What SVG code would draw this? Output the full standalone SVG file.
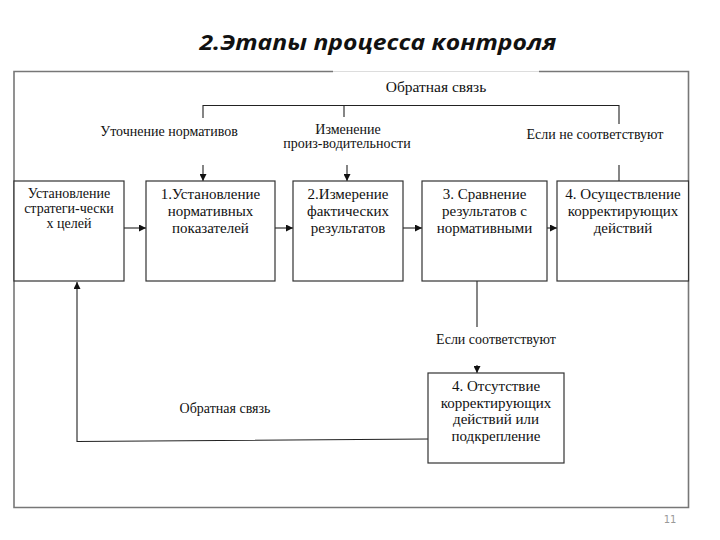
<svg xmlns="http://www.w3.org/2000/svg" width="720" height="540" viewBox="0 0 720 540">
<defs>
<marker id="ah" viewBox="0 0 10 10" refX="10" refY="5" markerWidth="7" markerHeight="7" markerUnits="userSpaceOnUse" orient="auto">
<path d="M0,0 L10,5 L0,10 Z" fill="#111"/>
</marker>
<style>
.box{fill:#fff;stroke:#333;stroke-width:1.2}
.t{font-family:"Liberation Serif","DejaVu Serif",serif;fill:#111;text-anchor:middle}
.bt{font-size:15px}
.lt{font-size:14px}
.c{fill:none;stroke:#222;stroke-width:1.1}
.a{marker-end:url(#ah)}
</style>
</defs>
<rect width="720" height="540" fill="#fff"/>
<text x="378" y="50" font-family="'Open Sans','Liberation Sans',sans-serif" font-weight="bold" font-style="italic" font-size="22" fill="#111" text-anchor="middle" textLength="357" lengthAdjust="spacingAndGlyphs">2.Этапы процесса контроля</text>
<g id="frame">
<path d="M333,71.5 L14,71.5 L14,507.5 L688.5,507.5 L688.5,71.5 L539,71.5" fill="none" stroke="#777" stroke-width="1.6"/>
<path d="M333,71.5 L539,71.5" fill="none" stroke="#ddd" stroke-width="1.2"/>
</g>
<g id="connectors">
<path class="c" d="M203,118 L203,105.5 L619,105.5 L619,124"/>
<path class="c" d="M344,105.5 L344,117"/>
<path class="c a" d="M203,165 L203,181"/>
<path class="c a" d="M347,165 L347,181"/>
<path class="c" d="M619,165 L619,181"/>
<path class="c a" d="M124,228 L146,228"/>
<path class="c a" d="M275,228 L293,228"/>
<path class="c a" d="M403,228 L422,228"/>
<path class="c a" d="M547,228 L557,228"/>
<path class="c" d="M477,281 L477,327"/>
<path class="c a" d="M477,365 L477,373"/>
<path class="c a" d="M428,439 L77,441.5 L77,282"/>
</g>
<g id="labels">
<text class="t" x="436" y="92" font-size="15.5">Обратная связь</text>
<text class="t lt" x="169" y="136">Уточнение нормативов</text>
<text class="t lt" x="348" y="134">Изменение</text>
<text class="t lt" x="347" y="148">произ-водительности</text>
<text class="t lt" x="595" y="139">Если не соответствуют</text>
<text class="t lt" x="496" y="344">Если соответствуют</text>
<text class="t lt" x="225" y="413">Обратная связь</text>
</g>
<g id="n0">
<rect class="box" x="14" y="181" width="110" height="100"/>
<text class="t" font-size="14" x="69" y="198">Установление</text>
<text class="t" font-size="14" x="69" y="213">стратеги-чески</text>
<text class="t" font-size="14" x="69" y="228">х целей</text>
</g>
<g id="n1">
<rect class="box" x="146" y="181" width="129" height="100"/>
<text class="t bt" x="210.5" y="199">1.Установление</text>
<text class="t bt" x="210.5" y="216">нормативных</text>
<text class="t bt" x="210.5" y="233">показателей</text>
</g>
<g id="n2">
<rect class="box" x="293" y="181" width="110" height="100"/>
<text class="t bt" x="348" y="199">2.Измерение</text>
<text class="t bt" x="348" y="216">фактических</text>
<text class="t bt" x="348" y="233">результатов</text>
</g>
<g id="n3">
<rect class="box" x="422" y="181" width="125" height="100"/>
<text class="t bt" x="484.5" y="199">3. Сравнение</text>
<text class="t bt" x="484.5" y="216">результатов с</text>
<text class="t bt" x="484.5" y="233">нормативными</text>
</g>
<g id="n4">
<rect class="box" x="557" y="181" width="131.5" height="100"/>
<text class="t bt" x="623" y="199">4. Осуществление</text>
<text class="t bt" x="623" y="216">корректирующих</text>
<text class="t bt" x="623" y="233">действий</text>
</g>
<g id="n5">
<rect class="box" x="428" y="373" width="136" height="90"/>
<text class="t bt" x="496" y="391">4. Отсутствие</text>
<text class="t bt" x="496" y="407.5">корректирующих</text>
<text class="t bt" x="496" y="424">действий или</text>
<text class="t bt" x="496" y="440.5">подкрепление</text>
</g>
<text x="670" y="523" font-family="'DejaVu Sans',sans-serif" font-size="10" fill="#999" text-anchor="middle">11</text>
</svg>
